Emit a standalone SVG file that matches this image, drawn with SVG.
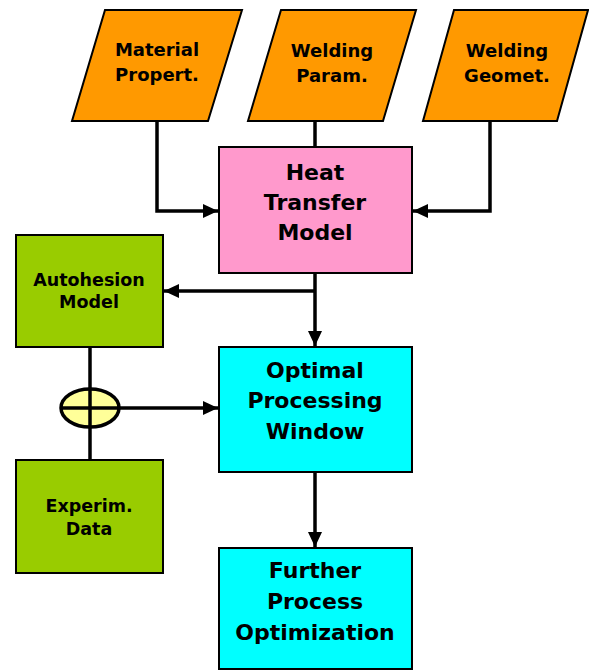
<svg xmlns="http://www.w3.org/2000/svg" width="589" height="671" viewBox="0 0 589 671">
  <style>
    .input { fill: #ff9900; stroke: #000; stroke-width: 2; }
    .heat { fill: #ff99cc; stroke: #000; stroke-width: 2; }
    .green { fill: #99cc00; stroke: #000; stroke-width: 2; }
    .cyan { fill: #00ffff; stroke: #000; stroke-width: 2; }
    .sum { fill: #ffff99; stroke: #000; stroke-width: 3.5; }
    .wire { fill: none; stroke: #000; stroke-width: 3.5; }
    text { font-family: "DejaVu Sans", Verdana, sans-serif; font-weight: bold; fill: #000; text-anchor: middle; }
    .s { font-size: 18px; }
    .m { font-size: 17.5px; }
    .l { font-size: 22px; }
  </style>
  <defs>
    <marker id="arrow" viewBox="0 0 15 14" refX="15" refY="7" markerWidth="15" markerHeight="14" markerUnits="userSpaceOnUse" orient="auto">
      <path d="M0,0 L15,7 L0,14 Z" fill="#000"/>
    </marker>
  </defs>

  <g id="connectors">
    <path class="wire" d="M157,121 V211 H218" marker-end="url(#arrow)"/>
    <path class="wire" d="M315,121 V147"/>
    <path class="wire" d="M490,121 V211 H413" marker-end="url(#arrow)"/>
    <path class="wire" d="M315,273 V346" marker-end="url(#arrow)"/>
    <path class="wire" d="M315,291 H164" marker-end="url(#arrow)"/>
    <path class="wire" d="M90,347 V460"/>
    <path class="wire" d="M119,408 H218" marker-end="url(#arrow)"/>
    <path class="wire" d="M315,472 V547" marker-end="url(#arrow)"/>
  </g>

  <g id="material">
    <polygon class="input" points="105,10 242,10 208,121 72,121"/>
    <text class="s" x="157" y="56">Material</text>
    <text class="s" x="157" y="81">Propert.</text>
  </g>
  <g id="welding-param">
    <polygon class="input" points="281,10 416,10 383,121 248,121"/>
    <text class="s" x="332" y="57">Welding</text>
    <text class="s" x="332" y="82">Param.</text>
  </g>
  <g id="welding-geomet">
    <polygon class="input" points="454,10 588,10 557,121 423,121"/>
    <text class="s" x="507" y="57">Welding</text>
    <text class="s" x="507" y="82">Geomet.</text>
  </g>

  <g id="heat-transfer">
    <rect class="heat" x="219" y="147" width="193" height="126"/>
    <text class="l" x="315" y="180">Heat</text>
    <text class="l" x="315" y="210">Transfer</text>
    <text class="l" x="315" y="240">Model</text>
  </g>

  <g id="autohesion">
    <rect class="green" x="16" y="235" width="147" height="112"/>
    <text class="m" x="89" y="286">Autohesion</text>
    <text class="m" x="89" y="308">Model</text>
  </g>

  <g id="combine">
    <ellipse class="sum" cx="90" cy="408" rx="29" ry="19"/>
    <path class="wire" d="M90,389 V427 M61,408 H119"/>
  </g>

  <g id="experim">
    <rect class="green" x="16" y="460" width="147" height="113"/>
    <text class="m" x="89" y="512">Experim.</text>
    <text class="m" x="89" y="535">Data</text>
  </g>

  <g id="optimal-window">
    <rect class="cyan" x="219" y="347" width="193" height="125"/>
    <text class="l" x="315" y="378">Optimal</text>
    <text class="l" x="315" y="408">Processing</text>
    <text class="l" x="315" y="439">Window</text>
  </g>

  <g id="further-optimization">
    <rect class="cyan" x="219" y="548" width="193" height="121"/>
    <text class="l" x="315" y="578">Further</text>
    <text class="l" x="315" y="609">Process</text>
    <text class="l" x="315" y="640">Optimization</text>
  </g>
</svg>
